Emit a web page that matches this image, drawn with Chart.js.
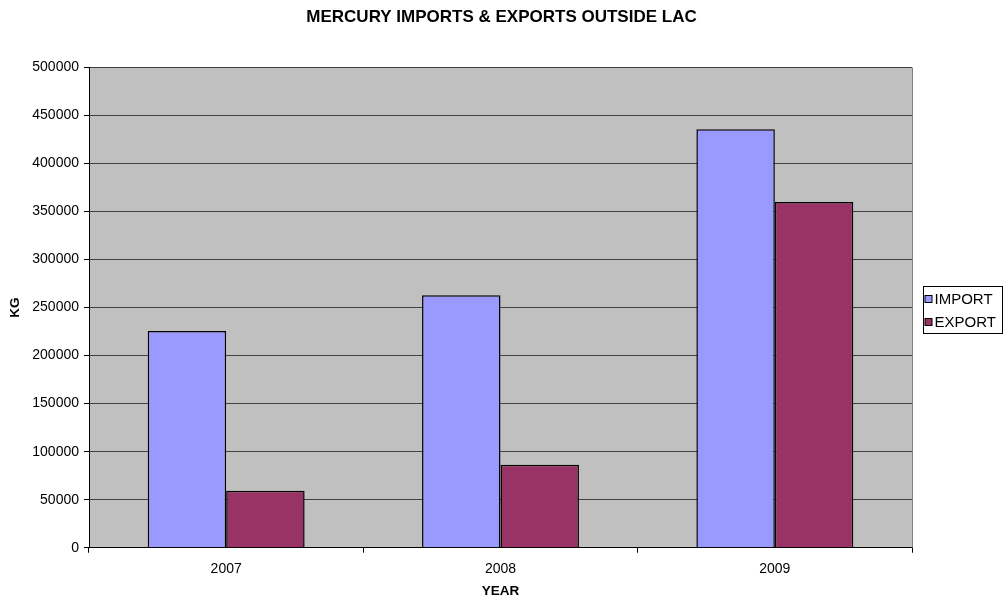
<!DOCTYPE html>
<html>
<head>
<meta charset="utf-8">
<title>Mercury imports & exports outside LAC</title>
<script src="https://cdn.jsdelivr.net/npm/chart.js@4.4.1/dist/chart.umd.min.js"></script>
<style>
	html, body { margin: 0; padding: 0; background: #fff; }
	#grafico { display: block; }
</style>
</head>
<body>
<canvas id="grafico" width="1003" height="602"></canvas>
<script>
// dados em kg por ano
const anos = ["2007", "2008", "2009"];
const importacoes = [225600, 262800, 435700];
const exportacoes = [59400, 86400, 360000];

const tituloGrafico = "MERCURY IMPORTS & EXPORTS OUTSIDE LAC";
const fonte = '"Liberation Sans", Arial, sans-serif';

// fundo cinza da area do grafico, titulo e caixa de legenda
const moldura = {
	id: "moldura",
	beforeDraw(chart) {
		const { ctx, chartArea: a } = chart;
		ctx.save();
		ctx.fillStyle = "#c0c0c0";
		ctx.fillRect(a.left, a.top, a.right - a.left, a.bottom - a.top);
		ctx.restore();
	},
	afterDatasetsDraw(chart) {
		const { ctx, chartArea: a } = chart;
		ctx.save();
		ctx.strokeStyle = "#808080";
		ctx.lineWidth = 1;
		ctx.beginPath();
		ctx.moveTo(Math.round(a.right) + 0.5, a.top);
		ctx.lineTo(Math.round(a.right) + 0.5, a.bottom);
		ctx.stroke();
		ctx.restore();
	},
	afterDraw(chart) {
		const { ctx, chartArea: a } = chart;
		ctx.save();

		// titulo
		ctx.fillStyle = "#000";
		ctx.font = "bold 17px " + fonte;
		ctx.textAlign = "center";
		ctx.textBaseline = "middle";
		ctx.fillText(tituloGrafico, chart.width / 2, 17.5);

		// legenda
		const itens = chart.data.datasets;
		const alturaLinha = 23;
		const caixaX = Math.round(a.right) + 11.5;
		const caixaW = 79;
		const caixaH = itens.length * alturaLinha + 1;
		const caixaY = Math.round((a.top + a.bottom) / 2 - caixaH / 2) + 2.5;
		ctx.strokeStyle = "#000";
		ctx.lineWidth = 1;
		ctx.strokeRect(caixaX, caixaY, caixaW, caixaH);

		ctx.font = "15px " + fonte;
		ctx.textAlign = "left";
		itens.forEach((ds, i) => {
			const cy = caixaY + alturaLinha / 2 + i * alturaLinha + 1;
			ctx.fillStyle = ds.backgroundColor;
			ctx.fillRect(caixaX + 1.5, cy - 3.5, 7, 7);
			ctx.strokeRect(caixaX + 1.5, cy - 3.5, 7, 7);
			ctx.fillStyle = "#000";
			ctx.fillText(ds.label, caixaX + 11, cy + 1);
		});
		ctx.restore();
	},
};

new Chart(document.getElementById("grafico"), {
	type: "bar",
	data: {
		labels: anos,
		datasets: [
			{
				label: "IMPORT",
				data: importacoes,
				backgroundColor: "#9999ff",
				borderColor: "#000",
				borderWidth: 1.5,
				categoryPercentage: 0.572,
				barPercentage: 1.0,
			},
			{
				label: "EXPORT",
				data: exportacoes,
				backgroundColor: "#993366",
				borderColor: "#000",
				borderWidth: 1.5,
				categoryPercentage: 0.572,
				barPercentage: 1.0,
			},
		],
	},
	options: {
		responsive: false,
		animation: false,
		layout: {
			padding: { top: 67.5, right: 91, bottom: 0, left: 3 },
		},
		plugins: {
			legend: { display: false },
			title: { display: false },
			tooltip: { enabled: false },
		},
		scales: {
			x: {
				grid: {
					drawOnChartArea: false,
					drawTicks: true,
					tickLength: 5,
					tickColor: "#000",
					offset: true,
				},
				border: { color: "#000", width: 1 },
				ticks: {
					color: "#000",
					padding: 8,
					font: { family: fonte, size: 14 },
				},
				title: {
					display: true,
					text: "YEAR",
					color: "#000",
					padding: { top: 0, bottom: 3 },
					font: { family: fonte, size: 13.5, weight: "bold" },
				},
				afterFit(escala) {
					escala.height = 54.3;
				},
			},
			y: {
				min: 0,
				max: 500000,
				grid: {
					color: "#404040",
					lineWidth: 1,
					tickLength: 5,
					tickColor: "#000",
				},
				border: { color: "#000", width: 1 },
				ticks: {
					stepSize: 50000,
					color: "#000",
					padding: 5,
					font: { family: fonte, size: 14 },
					callback: (valor) => String(valor),
				},
				title: {
					display: true,
					text: "KG",
					color: "#000",
					font: { family: fonte, size: 13.5, weight: "bold" },
				},
				afterFit(escala) {
					escala.width = 86;
				},
			},
		},
	},
	plugins: [moldura],
});
</script>
</body>
</html>
